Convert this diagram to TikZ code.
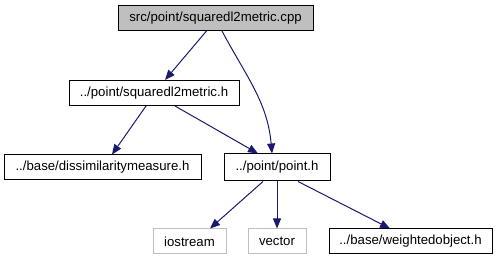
\documentclass[tikz,border=0pt]{standalone}
\usepackage{fontspec}
\setmainfont{Liberation Sans}
\usetikzlibrary{arrows.meta}

\definecolor{edgeblue}{HTML}{191970}
\definecolor{boxgray}{HTML}{BFBFBF}

\tikzset{
  file/.style={draw=black, line width=1pt, fill=white, inner sep=0pt,
    minimum height=25pt, font=\fontsize{13.2}{15}\selectfont},
  current/.style={file, fill=boxgray},
  system/.style={file, draw=boxgray},
  dep/.style={edgeblue, line width=1pt, -{Triangle[length=10pt,width=8pt]}}
}

\begin{document}
\begin{tikzpicture}[x=1pt, y=-1pt]
  \useasboundingbox (0,0) rectangle (497,261);
  % the source file and its headers
  \node[current, minimum width=195pt] (cpp) at (215.5,18) {src/point/squaredl2metric.cpp};
  \node[file, minimum width=170pt] (sqh) at (154,93) {../point/squaredl2metric.h};
  \node[file, minimum width=197pt] (dis) at (102.5,167.5) {../base/dissimilaritymeasure.h};
  \node[file, minimum width=106pt, minimum height=27pt] (pt) at (277,167.5) {../point/point.h};
  % includes of point.h
  \node[system, minimum width=73pt] (ios) at (189.5,241.5) {iostream};
  \node[system, minimum width=58pt] (vec) at (277,241.5) {vector};
  \node[file, minimum width=163pt] (wob) at (410.5,241.5) {../base/weightedobject.h};
  % include edges
  \draw[dep] ([xshift=-9pt]cpp.south) -- ([xshift=11pt]sqh.north);
  \draw[dep] ([xshift=6.5pt]cpp.south) to[out=-62, in=95] ([xshift=-5pt]pt.north);
  \draw[dep] ([xshift=-8pt]sqh.south) -- ([xshift=9.5pt]dis.north);
  \draw[dep] ([xshift=21pt]sqh.south) -- ([xshift=-19pt]pt.north);
  \draw[dep] ([xshift=-14pt]pt.south) -- ([xshift=20.5pt]ios.north);
  \draw[dep] (pt.south) -- (vec.north);
  \draw[dep] ([xshift=21pt]pt.south) -- ([xshift=-20.5pt]wob.north);
\end{tikzpicture}
\end{document}
